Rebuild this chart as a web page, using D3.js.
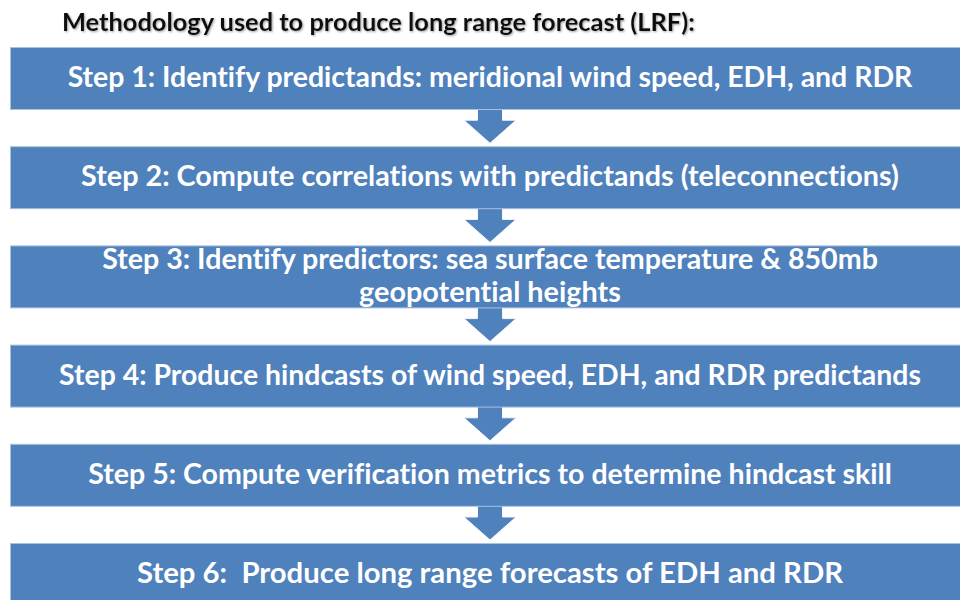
<!DOCTYPE html>
<html>
<head>
<meta charset="utf-8">
<script src="https://cdn.jsdelivr.net/npm/d3@7"></script>
<style>
  html, body { margin: 0; padding: 0; background: #fff; }
  svg { display: block; }
  text { font-variant-ligatures: none; font-feature-settings: "liga" 0, "clig" 0; white-space: pre; }
  .step-text { font-family: Lato, "Open Sans", sans-serif; font-weight: 700; fill: #fff; }
  .title { font-family: Lato, "Open Sans", sans-serif; font-weight: 700; fill: #111; }
</style>
</head>
<body>
<svg id="chart" width="960" height="600"></svg>
<script>
  // Flowchart content
  const title = "Methodology used to produce long range forecast (LRF):";
  const steps = ["1", "2", "3", "4", "5", "6"];
  const stepLines = [
    ["Step 1: Identify predictands: meridional wind speed, EDH, and RDR"],
    ["Step 2: Compute correlations with predictands (teleconnections)"],
    ["Step 3: Identify predictors: sea surface temperature & 850mb", "geopotential heights"],
    ["Step 4: Produce hindcasts of wind speed, EDH, and RDR predictands"],
    ["Step 5: Compute verification metrics to determine hindcast skill"],
    ["Step 6:  Produce long range forecasts of EDH and RDR"]
  ];

  const W = 960, H = 600;
  const BOX_X0 = 10, BOX_X1 = 970, BOX_H = 62;
  const CX = 490;
  const BLUE = "#4f81bd";

  const svg = d3.select("#chart");

  // vertical position of each step box
  const y = d3.scalePoint().domain(steps).range([47, 543]);

  // soft shadow for the title
  const defs = svg.append("defs");
  const f = defs.append("filter").attr("id", "tshadow").attr("x", "-5%").attr("y", "-30%").attr("width", "110%").attr("height", "160%");
  f.append("feDropShadow").attr("dx", 1).attr("dy", 1).attr("stdDeviation", 0.8).attr("flood-color", "#888").attr("flood-opacity", 0.8);

  svg.append("text")
    .attr("class", "title")
    .attr("x", 62)
    .attr("y", 31)
    .attr("filter", "url(#tshadow)")
    .style("font-size", "20px")
    .text(title)
    .each(function () { fitWidth(this, 633); });

  // arrows between boxes
  const arrowData = steps.slice(0, -1).map((s, i) => ({ from: s, to: steps[i + 1] }));
  svg.append("g").selectAll("path")
    .data(arrowData)
    .join("path")
    .attr("d", (d) => {
      const top = y(d.from) + BOX_H - 1;
      const tip = y(d.to) - 3;
      const headTop = tip - 23;
      const sw = 12.5, hw = 26;
      return `M${CX - sw},${top} L${CX + sw},${top} L${CX + sw},${headTop} L${CX + hw},${headTop}` +
        ` L${CX},${tip} L${CX - hw},${headTop} L${CX - sw},${headTop} Z`;
    })
    .attr("fill", BLUE)
    .attr("stroke", "#f4f7fb")
    .attr("stroke-width", 1);

  // boxes
  const boxes = svg.append("g").selectAll("g")
    .data(steps.map((s, i) => ({ id: s, lines: stepLines[i] })))
    .join("g")
    .attr("transform", (d) => `translate(0,${y(d.id)})`);

  boxes.append("rect")
    .attr("x", BOX_X0 + 0.5)
    .attr("y", 0.5)
    .attr("width", BOX_X1 - BOX_X0)
    .attr("height", BOX_H)
    .attr("fill", BLUE)
    .attr("stroke", "#a9c1e0")
    .attr("stroke-width", 1);

  // Calibri is narrower than the installed fonts, so each line is sized to the reference width
  const targetWidths = [[845], [818], [776, 262], [862], [804], [706]];

  boxes.each(function (d, i) {
    const n = d.lines.length;
    const lh = 33;
    const t = d3.select(this).append("text")
      .attr("class", "step-text")
      .attr("text-anchor", "middle")
      .attr("xml:space", "preserve");
    d.lines.forEach((line, j) => {
      const ts = t.append("tspan")
        .attr("x", CX)
        .attr("y", BOX_H / 2 + (j - (n - 1) / 2) * lh + 9)
        .style("font-size", "25px")
        .text(line);
      fitWidth(ts.node(), targetWidths[i][j]);
    });
  });

  function fitWidth(el, target) {
    const w = el.getComputedTextLength();
    if (w > 0) {
      const fs = parseFloat(el.style.fontSize);
      el.style.fontSize = (fs * target / w).toFixed(2) + "px";
    }
  }
</script>
</body>
</html>
